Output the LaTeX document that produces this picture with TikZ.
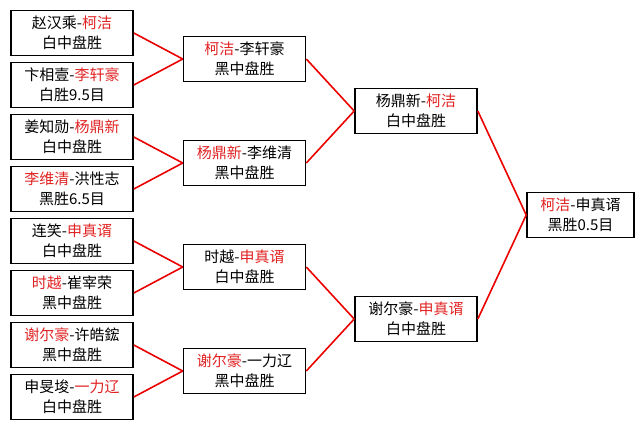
\documentclass[tikz,border=0pt]{standalone}
\usepackage{fontspec}
\setmainfont{Noto Sans CJK SC}
\definecolor{winred}{RGB}{225,35,35}
\definecolor{linkred}{RGB}{235,0,0}
\newcommand{\win}[1]{\textcolor{winred}{#1}}

\begin{document}
\begin{tikzpicture}[x=1pt,y=-1pt,
  game/.style={draw=black,line width=1.6pt,minimum width=122pt,minimum height=45pt,
    inner sep=0pt,align=center,font=\fontsize{15}{20}\selectfont},
  link/.style={draw=linkred,line width=1.6pt}]
\useasboundingbox (0,0) rectangle (644,429);

% first round
\node[game] (q1) at (72,33)  {赵汉乘-\win{柯洁}\\白中盘胜};
\node[game] (q2) at (72,85)  {卞相壹-\win{李轩豪}\\白胜9.5目};
\node[game] (q3) at (72,137) {姜知勋-\win{杨鼎新}\\白中盘胜};
\node[game] (q4) at (72,189) {\win{李维清}-洪性志\\黑胜6.5目};
\node[game] (q5) at (72,241) {连笑-\win{申真谞}\\白中盘胜};
\node[game] (q6) at (72,293) {\win{时越}-崔宰荣\\黑中盘胜};
\node[game] (q7) at (72,345) {\win{谢尔豪}-许皓鋐\\黑中盘胜};
\node[game] (q8) at (72,397) {申旻埈-\win{一力辽}\\白中盘胜};

% quarter finals
\node[game] (s1) at (244.5,59)  {\win{柯洁}-李轩豪\\黑中盘胜};
\node[game] (s2) at (244.5,163) {\win{杨鼎新}-李维清\\黑中盘胜};
\node[game] (s3) at (244.5,267) {时越-\win{申真谞}\\白中盘胜};
\node[game] (s4) at (244.5,371) {\win{谢尔豪}-一力辽\\黑中盘胜};

% semi finals
\node[game] (f1) at (416,111) {杨鼎新-\win{柯洁}\\白中盘胜};
\node[game] (f2) at (416,319) {谢尔豪-\win{申真谞}\\白中盘胜};

% final
\node[game,minimum width=107pt] (w) at (580.5,215) {\win{柯洁}-申真谞\\黑胜0.5目};

% links
\foreach \a/\b in {q1/s1,q2/s1,q3/s2,q4/s2,q5/s3,q6/s3,q7/s4,q8/s4,
                   s1/f1,s2/f1,s3/f2,s4/f2,f1/w,f2/w}
  \draw[link] (\a.east) -- (\b.west);
\end{tikzpicture}
\end{document}
